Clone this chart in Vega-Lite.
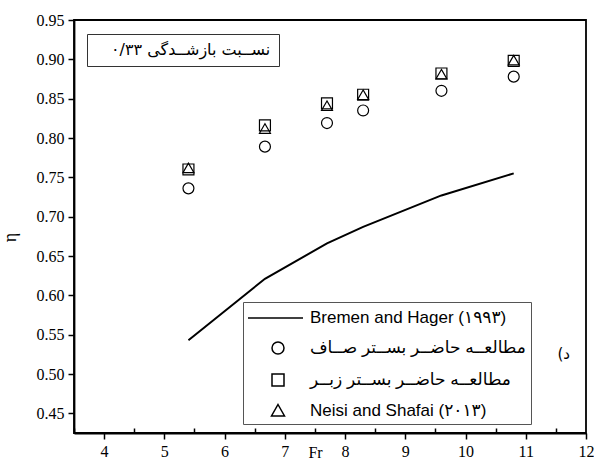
{
  "$schema": "https://vega.github.io/schema/vega-lite/v6.json",
  "width": 512,
  "height": 413,
  "autosize": {"type": "none"},
  "padding": {"left": 74, "top": 20, "right": 8, "bottom": 29},
  "background": "white",
  "config": {
    "view": {"stroke": "black", "strokeWidth": 1.8},
    "axis": {
      "domainColor": "black", "domainWidth": 1.8, "tickColor": "black", "tickWidth": 1.5,
      "labelFont": "Liberation Serif", "labelFontSize": 16, "labelColor": "black",
      "titleFont": "Liberation Serif", "titleFontWeight": "normal", "titleColor": "black",
      "grid": false, "labelOverlap": false, "labelFlush": false
    }
  },
  "datasets": {
    "line": [
      {"Fr": 5.4, "eta": 0.543},
      {"Fr": 6.67, "eta": 0.621},
      {"Fr": 7.7, "eta": 0.666},
      {"Fr": 8.3, "eta": 0.687},
      {"Fr": 9.6, "eta": 0.727},
      {"Fr": 10.8, "eta": 0.755}
    ],
    "pts": [
      {"Fr": 5.4, "eta": 0.736, "series": "مطالعــه حاضــر بســتر صــاف"},
      {"Fr": 6.67, "eta": 0.789, "series": "مطالعــه حاضــر بســتر صــاف"},
      {"Fr": 7.7, "eta": 0.819, "series": "مطالعــه حاضــر بســتر صــاف"},
      {"Fr": 8.3, "eta": 0.835, "series": "مطالعــه حاضــر بســتر صــاف"},
      {"Fr": 9.6, "eta": 0.860, "series": "مطالعــه حاضــر بســتر صــاف"},
      {"Fr": 10.8, "eta": 0.878, "series": "مطالعــه حاضــر بســتر صــاف"},
      {"Fr": 5.4, "eta": 0.760, "series": "مطالعــه حاضــر بســتر زبــر"},
      {"Fr": 6.67, "eta": 0.816, "series": "مطالعــه حاضــر بســتر زبــر"},
      {"Fr": 7.7, "eta": 0.844, "series": "مطالعــه حاضــر بســتر زبــر"},
      {"Fr": 8.3, "eta": 0.855, "series": "مطالعــه حاضــر بســتر زبــر"},
      {"Fr": 9.6, "eta": 0.882, "series": "مطالعــه حاضــر بســتر زبــر"},
      {"Fr": 10.8, "eta": 0.898, "series": "مطالعــه حاضــر بســتر زبــر"},
      {"Fr": 5.4, "eta": 0.762, "series": "Neisi and Shafai (۲۰۱۳)"},
      {"Fr": 6.67, "eta": 0.812, "series": "Neisi and Shafai (۲۰۱۳)"},
      {"Fr": 7.7, "eta": 0.841, "series": "Neisi and Shafai (۲۰۱۳)"},
      {"Fr": 8.3, "eta": 0.855, "series": "Neisi and Shafai (۲۰۱۳)"},
      {"Fr": 9.6, "eta": 0.881, "series": "Neisi and Shafai (۲۰۱۳)"},
      {"Fr": 10.8, "eta": 0.899, "series": "Neisi and Shafai (۲۰۱۳)"}
    ]
  },
  "title": {
    "text": "(د",
    "orient": "top",
    "anchor": "end",
    "frame": "group",
    "offset": 0,
    "dx": -16,
    "dy": 350,
    "font": "DejaVu Sans",
    "fontSize": 15,
    "fontWeight": "normal",
    "color": "black"
  },
  "layer": [
    {
      "data": {"name": "line"},
      "mark": {"type": "line", "color": "black", "strokeWidth": 2},
      "encoding": {
        "x": {
          "field": "Fr", "type": "quantitative",
          "scale": {"domain": [3.5, 12], "nice": false, "zero": false},
          "axis": {
            "title": "Fr",
            "titleFontSize": 16,
            "titleX": 241,
            "titleY": 19,
            "titleBaseline": "middle",
            "tickValues": [3.5, 4, 4.5, 5, 5.5, 6, 6.5, 7, 7.5, 8, 8.5, 9, 9.5, 10, 10.5, 11, 11.5, 12],
            "labelExpr": "datum.value % 1 === 0 ? format(datum.value, 'd') : ''",
            "tickSize": {"condition": {"test": "datum.value % 1 !== 0", "value": -5}, "value": 6},
            "labelPadding": 4
          }
        },
        "y": {
          "field": "eta", "type": "quantitative",
          "scale": {"domain": [0.425, 0.95], "nice": false, "zero": false},
          "axis": {
            "title": "η",
            "titleFontSize": 18,
            "titleX": -64,
            "titleY": 217,
            "titleAlign": "center",
            "titleBaseline": "middle",
            "tickValues": [0.425, 0.4375, 0.45, 0.4625, 0.475, 0.4875, 0.5, 0.5125, 0.525, 0.5375, 0.55, 0.5625, 0.575, 0.5875, 0.6, 0.6125, 0.625, 0.6375, 0.65, 0.6625, 0.675, 0.6875, 0.7, 0.7125, 0.725, 0.7375, 0.75, 0.7625, 0.775, 0.7875, 0.8, 0.8125, 0.825, 0.8375, 0.85, 0.8625, 0.875, 0.8875, 0.9, 0.9125, 0.925, 0.9375, 0.95],
            "labelExpr": "abs(datum.value * 20 - round(datum.value * 20)) < 0.001 && datum.value > 0.44 ? format(datum.value, '.2f') : ''",
            "tickSize": {"condition": {"test": "abs(datum.value * 20 - round(datum.value * 20)) > 0.001", "value": -5}, "value": 6},
            "labelPadding": 4
          }
        }
      }
    },
    {
      "data": {"name": "pts"},
      "mark": {"type": "point", "filled": false, "color": "black", "size": 120, "strokeWidth": 1.2, "opacity": 1},
      "encoding": {
        "x": {"field": "Fr", "type": "quantitative"},
        "y": {"field": "eta", "type": "quantitative"},
        "shape": {
          "field": "series", "type": "nominal",
          "scale": {
            "domain": ["مطالعــه حاضــر بســتر صــاف", "مطالعــه حاضــر بســتر زبــر", "Neisi and Shafai (۲۰۱۳)"],
            "range": ["circle", "square", "triangle-up"]
          },
          "legend": null
        }
      }
    },
    {
      "data": {"name": "pts"},
      "transform": [{"filter": "false"}],
      "mark": {"type": "point", "filled": false, "color": "black", "size": 400, "strokeWidth": 1.5, "opacity": 1},
      "encoding": {
        "shape": {
          "field": "series", "type": "nominal",
          "scale": {
            "domain": ["Bremen and Hager (۱۹۹۳)", "مطالعــه حاضــر بســتر صــاف", "مطالعــه حاضــر بســتر زبــر", "Neisi and Shafai (۲۰۱۳)"],
            "range": ["M-1.1,0H4.4", "M1.3,0A0.6,0.6,0,1,1,2.5,0A0.6,0.6,0,1,1,1.3,0Z", "M1.3,-0.6H2.5V0.6H1.3Z", "M1.9,-0.65L2.55,0.5H1.25Z"]
          },
          "legend": {
            "title": null,
            "orient": "none",
            "legendX": 169,
            "legendY": 282,
            "padding": 5,
            "strokeColor": "#555555",
            "symbolSize": 400,
            "symbolStrokeColor": "black",
            "symbolFillColor": "transparent",
            "symbolStrokeWidth": 1.5,
            "symbolOpacity": 1,
            "labelFont": "Liberation Sans, DejaVu Sans",
            "labelFontSize": 17,
            "labelColor": "black",
            "labelOffset": 40,
            "labelLimit": 400,
            "rowPadding": 11
          }
        },
        "color": {
          "field": "note", "type": "nominal",
          "scale": {"domain": ["نســبت بازشــدگی ۰/۳۳"], "range": ["black"]},
          "legend": {
            "title": null,
            "orient": "none",
            "legendX": 13,
            "legendY": 14,
            "padding": 8,
            "strokeColor": "#333333",
            "symbolSize": 0,
            "symbolOpacity": 0,
            "labelOffset": 0,
            "labelFont": "DejaVu Sans",
            "labelFontSize": 16,
            "labelColor": "black",
            "labelLimit": 400
          }
        }
      }
    }
  ],
  "resolve": {"scale": {"shape": "independent"}, "legend": {"shape": "independent"}}
}
